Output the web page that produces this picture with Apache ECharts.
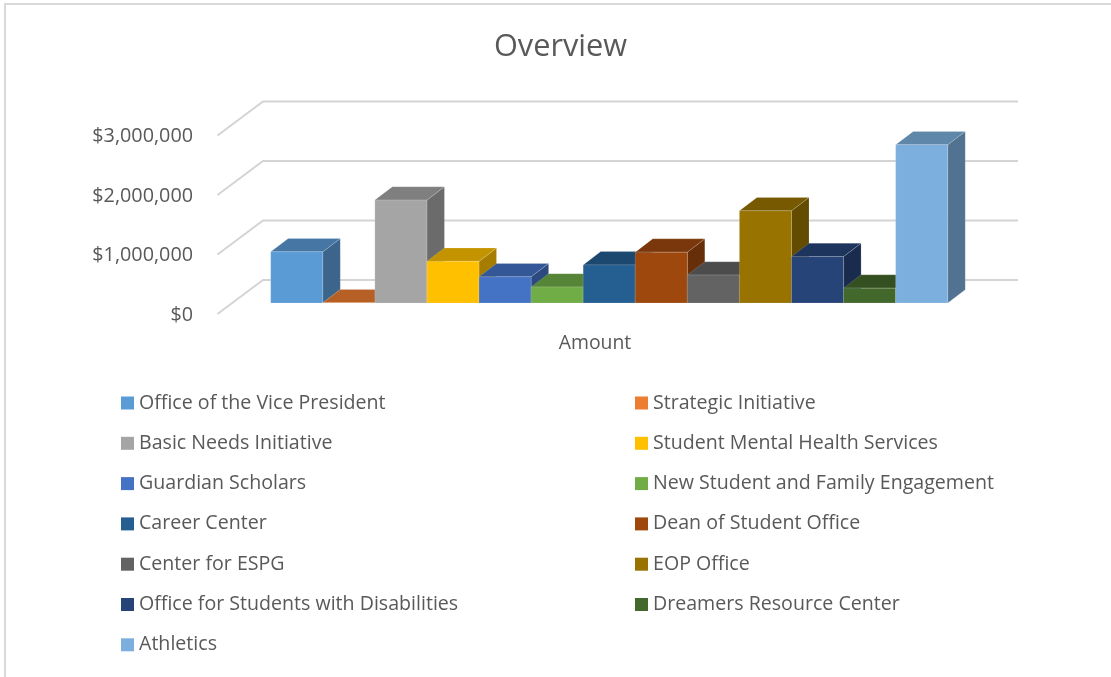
<!DOCTYPE html>
<html lang="en">
<head>
    <meta charset="UTF-8">
    <title>Overview</title>
    <script src="https://cdn.jsdelivr.net/npm/echarts@6/dist/echarts.min.js"></script>
    <style>
        html, body { margin: 0; padding: 0; background: #fff; overflow: hidden; }
        #main { width: 1111px; height: 677px; }
    </style>
</head>
<body>
<div id="main"></div>

<script type="text/javascript">
    var categories = ['Amount'];
    var names = [
        'Office of the Vice President', 'Strategic Initiative',
        'Basic Needs Initiative', 'Student Mental Health Services',
        'Guardian Scholars', 'New Student and Family Engagement',
        'Career Center', 'Dean of Student Office',
        'Center for ESPG', 'EOP Office',
        'Office for Students with Disabilities', 'Dreamers Resource Center',
        'Athletics'
    ];
    var amounts = [
        860000, 5000, 1730000, 700000, 440000, 270000, 640000,
        855000, 470000, 1550000, 780000, 250000, 2660000
    ];
    var colors = [
        '#5B9BD5', '#ED7D31', '#A5A5A5', '#FFC000', '#4472C4', '#70AD47', '#255E91',
        '#9E480E', '#636363', '#997300', '#264478', '#43682B', '#7CAFDD'
    ];
    var yTicks = [0, 1000000, 2000000, 3000000];

    // the 3d look: how far the back wall and the bars sit from the axis plane
    var wallX = 45.5, wallY = -34, wallEnd = 1018;
    var barShiftX = 53.2, barShiftY = -11, barW = 52.08, depthX = 17.5, depthY = -13.3;

    // darker version of a colour for the top and side faces
    function shade(hex, k) {
        var c = echarts.color.parse(hex);
        return 'rgb(' + Math.round(c[0] * k) + ',' + Math.round(c[1] * k) + ',' + Math.round(c[2] * k) + ')';
    }

    function gridLine(params, api) {
        var p = api.coord([0, api.value(1)]);
        var left = params.coordSys.x;
        var y = p[1];
        return {
            type: 'polyline',
            silent: true,
            shape: { points: [[left, y], [left + wallX, y + wallY], [wallEnd, y + wallY]] },
            style: { stroke: '#d4d4d4', lineWidth: 2, fill: null }
        };
    }

    function bar3d(i) {
        return function (params, api) {
            var top = api.coord([0, api.value(1)]);
            var base = api.coord([0, 0]);
            var x0 = params.coordSys.x + barShiftX + i * barW;
            var x1 = x0 + barW;
            var yt = top[1] + barShiftY;
            var yb = base[1] + barShiftY;
            var c = colors[i];
            var edge = 'rgba(255,255,255,0.3)';
            return {
                type: 'group',
                children: [
                    {
                        type: 'polygon',
                        shape: { points: [[x1, yt], [x1 + depthX, yt + depthY], [x1 + depthX, yb + depthY], [x1, yb]] },
                        style: { fill: shade(c, 0.65), stroke: edge, lineWidth: 0.5 }
                    },
                    {
                        type: 'polygon',
                        shape: { points: [[x0, yt], [x0 + depthX, yt + depthY], [x1 + depthX, yt + depthY], [x1, yt]] },
                        style: { fill: shade(c, 0.77), stroke: edge, lineWidth: 0.5 }
                    },
                    {
                        type: 'rect',
                        shape: { x: x0, y: yt, width: barW, height: yb - yt },
                        style: { fill: c, stroke: edge, lineWidth: 0.5 }
                    }
                ]
            };
        };
    }

    var series = [{
        name: 'grid',
        type: 'custom',
        renderItem: gridLine,
        silent: true,
        data: yTicks.map(function (v) { return [0, v]; })
    }];
    names.forEach(function (name, i) {
        series.push({
            name: name,
            type: 'custom',
            renderItem: bar3d(i),
            itemStyle: { color: colors[i] },
            data: [[0, amounts[i]]]
        });
    });

    var legendBase = {
        orient: 'vertical',
        top: 391,
        icon: 'rect',
        itemWidth: 13,
        itemHeight: 13,
        itemGap: 16.3,
        padding: 0,
        selectedMode: false,
        textStyle: { fontFamily: 'Open Sans', fontSize: 19.6, color: '#595959', lineHeight: 24 }
    };

    var myChart = echarts.init(document.getElementById('main'));
    myChart.setOption({
        animation: false,
        title: {
            text: 'Overview',
            left: 555.5,
            top: 27,
            textAlign: 'center',
            textStyle: { fontFamily: 'Open Sans', fontSize: 30.7, fontWeight: 'normal', color: '#595959' }
        },
        legend: [
            Object.assign({}, legendBase, { left: 121, data: names.filter(function (n, i) { return i % 2 === 0; }) }),
            Object.assign({}, legendBase, { left: 635, data: names.filter(function (n, i) { return i % 2 === 1; }) })
        ],
        grid: { left: 217.5, width: 755, top: 135.5, height: 178.5 },
        xAxis: {
            type: 'category',
            data: categories,
            axisLine: { show: false },
            axisTick: { show: false },
            axisLabel: { margin: 20, fontFamily: 'Open Sans', fontSize: 19.4, color: '#595959' }
        },
        yAxis: {
            type: 'value',
            min: 0,
            max: 3000000,
            interval: 1000000,
            axisLine: { show: false },
            axisTick: { show: false },
            splitLine: { show: false },
            axisLabel: {
                margin: 24.5,
                fontFamily: 'Open Sans',
                fontSize: 19.8,
                color: '#595959',
                verticalAlign: 'top',
                lineHeight: 2,
                formatter: function (v) { return '$' + v.toLocaleString('en-US'); }
            }
        },
        graphic: [
            { type: 'line', shape: { x1: 5, y1: 677, x2: 5, y2: 4 }, style: { stroke: '#d9d9d9', lineWidth: 2 } },
            { type: 'line', shape: { x1: 4, y1: 4, x2: 1111, y2: 4 }, style: { stroke: '#d9d9d9', lineWidth: 2 } }
        ],
        series: series
    });
</script>
</body>
</html>
